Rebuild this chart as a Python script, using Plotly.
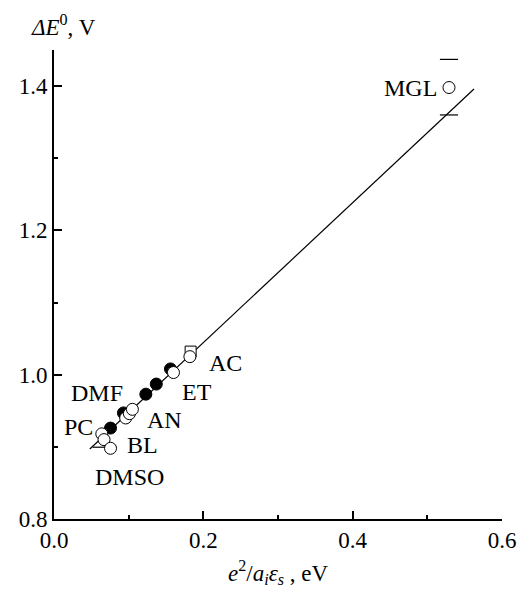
import plotly.graph_objects as go

# Data
filled_x = [0.0757, 0.093, 0.123, 0.137, 0.156]
filled_y = [0.926, 0.947, 0.973, 0.987, 1.008]

open_x = [0.064, 0.067, 0.096, 0.101, 0.105, 0.160, 0.182, 0.0757, 0.529]
open_y = [0.918, 0.910, 0.940, 0.946, 0.952, 1.003, 1.025, 0.898, 1.398]

square_x = [0.183]
square_y = [1.032]

cap_x = [0.529, 0.529, 0.064]
cap_y = [1.437, 1.360, 0.8995]

fit_x = [0.048, 0.5625]
fit_y = [0.897, 1.396]

labels = ["AC", "ET", "DMF", "AN", "PC", "BL", "DMSO", "MGL"]
label_x = [0.2297, 0.1916, 0.0571, 0.148, 0.0331, 0.118, 0.101, 0.478]
label_y = [1.016, 0.9766, 0.974, 0.937, 0.928, 0.9026, 0.8587, 1.398]

FONT = "Liberation Serif, Times New Roman, serif"

fig = go.Figure()
fig.add_trace(go.Scatter(x=fit_x, y=fit_y, mode="lines",
                         line=dict(color="black", width=1.2), showlegend=False))
fig.add_trace(go.Scatter(x=cap_x, y=cap_y, mode="markers",
                         marker=dict(symbol="line-ew", size=13,
                                     line=dict(color="black", width=1.2)),
                         showlegend=False))
fig.add_trace(go.Scatter(x=square_x, y=square_y, mode="markers",
                         marker=dict(symbol="square", size=11, color="white",
                                     line=dict(color="black", width=1)),
                         showlegend=False))
fig.add_trace(go.Scatter(x=filled_x, y=filled_y, mode="markers",
                         marker=dict(symbol="circle", size=12, color="black",
                                     line=dict(color="black", width=1)),
                         showlegend=False))
fig.add_trace(go.Scatter(x=open_x, y=open_y, mode="markers",
                         marker=dict(symbol="circle", size=12, color="white",
                                     line=dict(color="black", width=1)),
                         showlegend=False))

for t, lx, ly in zip(labels, label_x, label_y):
    fig.add_annotation(x=lx, y=ly, xref="x", yref="y", text=t, showarrow=False,
                       xanchor="center", yanchor="middle",
                       font=dict(family=FONT, size=24, color="black"))

axis_common = dict(showline=True, linecolor="black", linewidth=1.6,
                   ticks="inside", ticklen=8, tickwidth=1.6, tickcolor="black",
                   showgrid=False, zeroline=False, mirror=False,
                   tickfont=dict(family=FONT, size=23, color="black"))

fig.update_xaxes(range=[0, 0.6], tickvals=[0, 0.2, 0.4, 0.6],
                 ticktext=["0.0", "0.2", "0.4", "0.6"],
                 minor=dict(tickvals=[0.1, 0.3, 0.5], ticks="inside", ticklen=4,
                            tickwidth=1.6, tickcolor="black"),
                 **axis_common)
fig.update_yaxes(range=[0.8, 1.45], tickvals=[0.8, 1.0, 1.2, 1.4],
                 ticktext=["0.8", "1.0", "1.2", "1.4"],
                 minor=dict(tickvals=[0.9, 1.1, 1.3], ticks="inside", ticklen=4,
                            tickwidth=1.6, tickcolor="black"),
                 **axis_common)

fig.add_annotation(xref="paper", yref="paper", x=-0.055, y=1.0, yshift=25,
                   xanchor="left", yanchor="middle", showarrow=False,
                   text="<i>ΔE</i><sup>0</sup>, V",
                   font=dict(family=FONT, size=23, color="black"))
fig.add_annotation(xref="paper", yref="paper", x=0.5, y=0, yshift=-53,
                   xanchor="center", yanchor="middle", showarrow=False,
                   text="<i>e</i><sup>2</sup>/<i>a</i><sub><i>i</i></sub><i>ε</i><sub><i>s</i></sub> , eV",
                   font=dict(family=FONT, size=23, color="black"))

fig.update_layout(width=528, height=598, paper_bgcolor="white", plot_bgcolor="white",
                  margin=dict(l=54, r=16, t=50, b=79))

fig.write_html("out.html")
